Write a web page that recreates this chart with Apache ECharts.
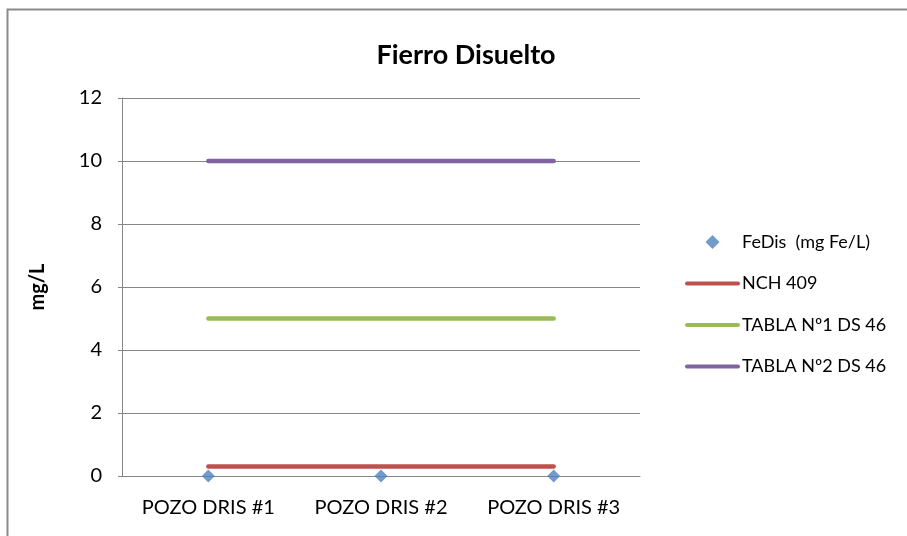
<!DOCTYPE html>
<html>
<head>
<meta charset="utf-8">
<script src="https://cdn.jsdelivr.net/npm/echarts@6/dist/echarts.min.js"></script>
<style>html,body{margin:0;padding:0;background:#fff}#c{width:907px;height:536px}</style>
</head>
<body>
<div id="c"></div>
<script>
const categories = ['POZO DRIS #1', 'POZO DRIS #2', 'POZO DRIS #3'];
const feDis = [0, 0, 0];
const nch409 = [0.3, 0.3, 0.3];
const tabla1 = [5, 5, 5];
const tabla2 = [10, 10, 10];
const yTicks = [0, 2, 4, 6, 8, 10, 12];

const font = 'Lato, "Open Sans", sans-serif';
const lineIcon = 'path://M2,0 L53,0 A2,2 0 0 1 53,4 L2,4 A2,2 0 0 1 2,0 Z';
const diamondIcon = 'path://M6,0 L12,6 L6,12 L0,6 Z';
const chart = echarts.init(document.getElementById('c'));
chart.setOption({
  animation: false,
  backgroundColor: '#fff',
  title: {
    text: 'Fierro Disuelto', left: 461, top: 37, textAlign: 'center',
    textStyle: { fontFamily: font, fontSize: 27, fontWeight: 'bold', color: '#000' }
  },
  graphic: [{
    type: 'rect', shape: { x: 7.5, y: 9.5, width: 1000, height: 1000 },
    style: { fill: 'none', stroke: '#8a8a8a', lineWidth: 2 }, silent: true
  }],
  grid: { left: 122, right: 267, top: 98, bottom: 60 },
  legend: {
    orient: 'vertical', left: 680, top: 228, itemWidth: 55, itemHeight: 14, itemGap: 23.5,
    symbolKeepAspect: true,
    textStyle: { fontFamily: font, fontSize: 18, color: '#000', padding: [0, 0, 0, -3] },
    data: [
      { name: 'FeDis  (mg Fe/L)', icon: diamondIcon },
      { name: 'NCH 409', icon: lineIcon },
      { name: 'TABLA Nº1 DS 46', icon: lineIcon },
      { name: 'TABLA Nº2 DS 46', icon: lineIcon }
    ]
  },
  xAxis: {
    type: 'category', data: categories, boundaryGap: true,
    axisLine: { lineStyle: { color: '#868686', width: 1 } },
    axisTick: { show: false },
    axisLabel: { fontFamily: font, fontSize: 20, color: '#000', margin: 22, interval: 0, hideOverlap: false }
  },
  yAxis: {
    type: 'value', min: yTicks[0], max: yTicks[yTicks.length - 1], interval: 2,
    name: 'mg/L', nameLocation: 'middle', nameGap: 74, nameRotate: 90,
    nameTextStyle: { fontFamily: font, fontSize: 20, fontWeight: 'bold', color: '#000' },
    axisLine: { show: true, lineStyle: { color: '#868686' } },
    axisTick: { show: true, length: 4, lineStyle: { color: '#868686' } },
    axisLabel: { fontFamily: font, fontSize: 20, color: '#000', margin: 20 },
    splitLine: { lineStyle: { color: '#868686', width: 1 } }
  },
  series: [
    { name: 'FeDis  (mg Fe/L)', type: 'scatter', data: feDis, symbol: 'diamond', symbolSize: 13,
      itemStyle: { color: '#4F81BD' }, z: 5 },
    { name: 'NCH 409', type: 'line', data: nch409, symbol: 'none',
      lineStyle: { color: '#C0504D', width: 4.5, cap: 'round' }, itemStyle: { color: '#C0504D' } },
    { name: 'TABLA Nº1 DS 46', type: 'line', data: tabla1, symbol: 'none',
      lineStyle: { color: '#9BBB59', width: 4.5, cap: 'round' }, itemStyle: { color: '#9BBB59' } },
    { name: 'TABLA Nº2 DS 46', type: 'line', data: tabla2, symbol: 'none',
      lineStyle: { color: '#8064A2', width: 4.5, cap: 'round' }, itemStyle: { color: '#8064A2' } }
  ]
});
</script>
</body>
</html>
